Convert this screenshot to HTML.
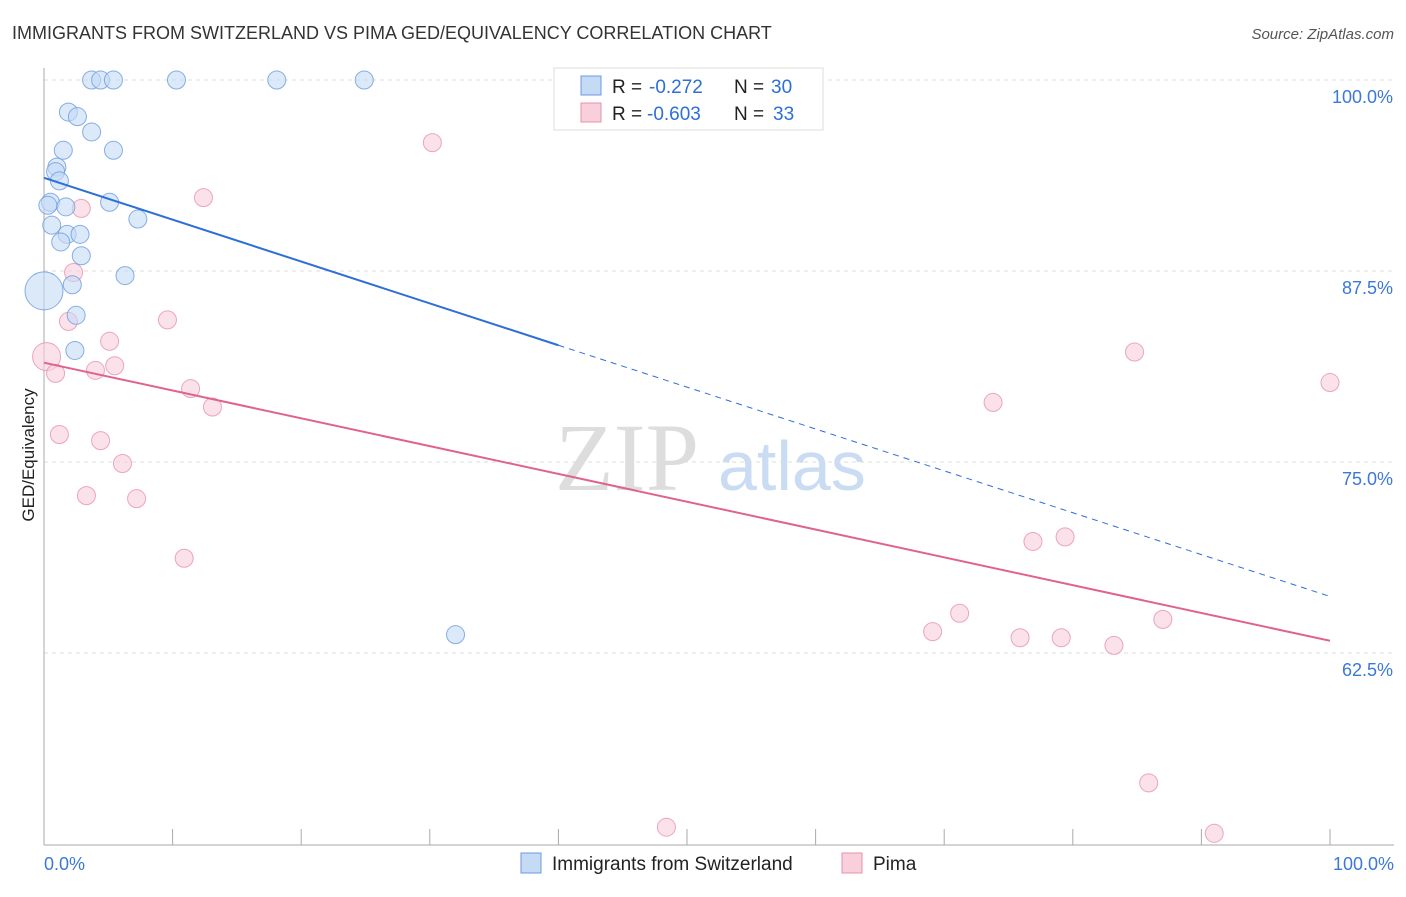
<!DOCTYPE html>
<html><head><meta charset="utf-8"><style>
body{margin:0;background:#fff;font-family:"Liberation Sans",sans-serif;}
</style></head><body>
<svg id="c" width="1406" height="892" xmlns="http://www.w3.org/2000/svg">
<text x="12" y="39" font-size="18" fill="#333">IMMIGRANTS FROM SWITZERLAND VS PIMA GED/EQUIVALENCY CORRELATION CHART</text>
<text x="1394" y="39" font-size="15" fill="#555" font-style="italic" text-anchor="end">Source: ZipAtlas.com</text>
<text x="555" y="490" font-size="96" fill="#ddd" font-family="Liberation Serif">ZIP</text>
<text x="718" y="490" font-size="70" fill="#c9dcf3">atlas</text>
<text transform="translate(34,455) rotate(-90)" font-size="17" fill="#222" text-anchor="middle">GED/Equivalency</text>
<g id="grid"></g><g id="marks"></g>
<g>
<rect x="554" y="68" width="269" height="62" fill="#fff" stroke="#ddd"/>
<rect x="581" y="76" width="20" height="19" fill="#c5daf5" stroke="#6a9be0"/>
<rect x="581" y="103" width="20" height="19" fill="#f9cfdc" stroke="#e891ad"/>
<text x="612" y="93" font-size="19" fill="#222">R =</text>
<text x="649" y="93" font-size="19" fill="#2d6fd6">-0.272</text>
<text x="734" y="93" font-size="19" fill="#222">N =</text>
<text x="771" y="93" font-size="19" fill="#2d6fd6">30</text>
<text x="612" y="120" font-size="19" fill="#222">R =</text>
<text x="647" y="120" font-size="19" fill="#2d6fd6">-0.603</text>
<text x="734" y="120" font-size="19" fill="#222">N =</text>
<text x="773" y="120" font-size="19" fill="#2d6fd6">33</text>
</g>
<g>
<rect x="521" y="853" width="20" height="20" fill="#c5daf5" stroke="#6a9be0"/>
<text x="552" y="870" font-size="19" fill="#222">Immigrants from Switzerland</text>
<rect x="842" y="853" width="20" height="20" fill="#f9cfdc" stroke="#e891ad"/>
<text x="873" y="870" font-size="19" fill="#222">Pima</text>
</g>
<text x="44" y="870" font-size="18" fill="#3b78d8">0.0%</text>
<text x="1394" y="870" font-size="18" fill="#3b78d8" text-anchor="end">100.0%</text>
</svg>
<script>
const yTicks=[100,87.5,75,62.5];
const yTickLabels=["100.0%","87.5%","75.0%","62.5%"];
const blueX=[3.7,4.4,5.4,10.3,18.1,24.9,1.9,2.6,3.7,5.4,1.5,1.0,0.9,1.2,0.5,5.1,1.7,7.3,0.6,1.8,2.8,1.3,2.9,6.3,0,2.2,2.5,2.4,32.0,0.3];
const blueY=[100,100,100,100,100,100,97.9,97.6,96.6,95.4,95.4,94.3,94.0,93.4,92.0,92.0,91.7,90.9,90.5,89.9,89.9,89.4,88.5,87.2,86.2,86.6,84.6,82.3,63.7,91.8];
const blueR=[9,9,9,9,9,9,9,9,9,9,9,9,9,9,9,9,9,9,9,9,9,9,9,9,19,9,9,9,9,9];
const pinkX=[30.2,12.4,2.9,2.3,9.6,1.9,5.1,0.2,5.5,4.0,0.9,11.4,13.1,1.2,4.4,6.1,3.3,7.2,10.9,73.8,84.8,100,76.9,79.4,71.2,69.1,75.9,79.1,83.2,87.0,85.9,48.4,91.0];
const pinkY=[95.9,92.3,91.6,87.4,84.3,84.2,82.9,81.9,81.3,81.0,80.8,79.8,78.6,76.8,76.4,74.9,72.8,72.6,68.7,78.9,82.2,80.2,69.8,70.1,65.1,63.9,63.5,63.5,63.0,64.7,54.0,51.1,50.7];
const pinkR=[9,9,9,9,9,9,9,14,9,9,9,9,9,9,9,9,9,9,9,9,9,9,9,9,9,9,9,9,9,9,9,9,9];
const blueTrend=[93.6,66.2]; const blueSolidEnd=40;
const pinkTrend=[81.5,63.3];
const NS="http://www.w3.org/2000/svg";
const X=v=>44+v*12.86, Y=v=>80+(100-v)*15.28;
function mk(t,a,p){const e=document.createElementNS(NS,t);for(const k in a)e.setAttribute(k,a[k]);p.appendChild(e);return e;}
const g=document.getElementById('grid'),m=document.getElementById('marks');
yTicks.forEach((t,i)=>{
 const l=mk('line',{x1:44,x2:1394,y1:Y(t),y2:Y(t),stroke:'#ddd','stroke-dasharray':'4,4'},g);
 
 
 const tx=mk('text',{x:1393,y:Y(t)+23,'font-size':18,fill:'#3b78d8','text-anchor':'end'},g);tx.textContent=yTickLabels[i];
 
 
});
const ax=mk('line',{x1:44,x2:44,y1:68,y2:845,stroke:'#aaa'},g);


const bx=mk('line',{x1:44,x2:1394,y1:845,y2:845,stroke:'#aaa'},g);


for(let i=0;i<=10;i++){const t=mk('line',{x1:X(i*10),x2:X(i*10),y1:829,y2:845,stroke:'#aaa'},g);
 
 }
function dots(xs,ys,rs,f,s,n){xs.forEach((x,i)=>{const c=mk('circle',{cx:X(x),cy:Y(ys[i]),r:rs[i],fill:f,'fill-opacity':0.6,stroke:s,'stroke-opacity':0.8,'stroke-width':1},m);
 
 });}
dots(pinkX,pinkY,pinkR,'#f9cfdc','#e891ad','pima-point');
dots(blueX,blueY,blueR,'#c5daf5','#6a9be0','switzerland-point');
const by=v=>blueTrend[0]+(blueTrend[1]-blueTrend[0])*v/100;
const b1=mk('line',{x1:X(0),y1:Y(by(0)),x2:X(blueSolidEnd),y2:Y(by(blueSolidEnd)),stroke:'#2d6fd6','stroke-width':2},m);


const b2=mk('line',{x1:X(blueSolidEnd),y1:Y(by(blueSolidEnd)),x2:X(100),y2:Y(by(100)),stroke:'#2d6fd6','stroke-width':1,'stroke-dasharray':'6,5'},m);


const p1=mk('line',{x1:X(0),y1:Y(pinkTrend[0]),x2:X(100),y2:Y(pinkTrend[1]),stroke:'#e0628e','stroke-width':2},m);


</script>
</body></html>
